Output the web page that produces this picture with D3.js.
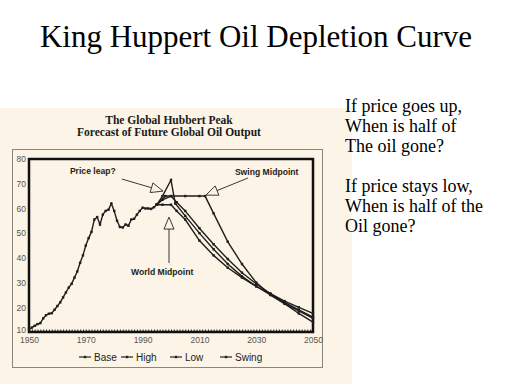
<!DOCTYPE html>
<html>
<head>
<meta charset="utf-8">
<script src="https://cdn.jsdelivr.net/npm/d3@7"></script>
<style>
  body { margin: 0; background: #fff; }
  svg { display: block; }
</style>
</head>
<body>
<svg id="chart" width="512" height="384"></svg>
<script>
// historical output (million bbl/day)
var histYears = [1950, 1951, 1952, 1953, 1954, 1955, 1956, 1957, 1958, 1959,
                 1960, 1961, 1962, 1963, 1964, 1965, 1966, 1967, 1968, 1969,
                 1970, 1971, 1972, 1973, 1974, 1975, 1976, 1977, 1978, 1979,
                 1980, 1981, 1982, 1983, 1984, 1985, 1986, 1987, 1988, 1989,
                 1990, 1991, 1992, 1993, 1994, 1995];
var histValues = [11, 11.8, 12.5, 13.2, 13.6, 15.5, 16.8, 17.4, 17.6, 19,
                  20.5, 22, 24, 26, 28, 29.5, 32, 34.5, 38, 41,
                  45, 48, 50.5, 55.5, 56.5, 53.5, 57.5, 59, 59.5, 62,
                  59, 55, 52.5, 52.3, 53.5, 53, 55.5, 55.8, 57.5, 59,
                  60.3, 60, 60, 59.8, 60.5, 61.5];

// forecast scenarios
var baseYears   = [1995, 1997, 2000, 2002, 2005, 2010, 2015, 2020, 2025, 2030, 2035, 2040, 2045, 2050];
var baseValues  = [61.5, 63.5, 65, 62.5, 59, 52, 45.5, 39.5, 34, 29.5, 25.5, 22, 19, 16];
var highYears   = [1995, 1997, 2000, 2001.5, 2005, 2010, 2015, 2020, 2025, 2030, 2035, 2040, 2045, 2050];
var highValues  = [61.5, 65, 71.5, 62, 57, 50, 43.5, 37.5, 32.5, 28.5, 25, 21.5, 17.5, 14];
var lowYears    = [1995, 1997, 2000, 2002, 2005, 2010, 2015, 2020, 2025, 2030, 2035, 2040, 2045, 2050];
var lowValues   = [61.5, 61.5, 61.5, 59, 55.5, 47, 41, 36, 32, 28.5, 25.5, 22.5, 20, 17.5];
var swingYears  = [1995, 1998, 2000, 2005, 2010, 2012, 2015, 2020, 2025, 2030, 2035, 2040, 2045, 2050];
var swingValues = [61.5, 65, 65, 65, 65, 65, 58, 46.5, 37.5, 30, 25, 21.5, 18.5, 15.5];

var seriesNames = ["Base", "High", "Low", "Swing"];
var xLabelYears = [1950, 1970, 1990, 2010, 2030, 2050];
var yTicks = [10, 20, 30, 40, 50, 60, 70, 80];

var notes = ["If price goes up,", "When is half of", "The oil gone?", "",
             "If price stays low,", "When is half of the", "Oil gone?"];

var serif = "'Liberation Serif', 'Times New Roman', Times, 'DejaVu Serif', serif";
var sans = "'Liberation Sans', Arial, Helvetica, sans-serif";

var svg = d3.select("#chart");

// slide title
svg.append("text")
    .attr("x", 256).attr("y", 46.5)
    .attr("text-anchor", "middle")
    .style("font-family", serif)
    .style("font-size", "31px")
    .text("King Huppert Oil Depletion Curve");

// cream picture panel
svg.append("rect")
    .attr("x", 0).attr("y", 108)
    .attr("width", 352).attr("height", 276)
    .attr("fill", "#fcf4e6");

// side notes
svg.append("g").selectAll("text")
    .data(notes)
    .enter().append("text")
    .attr("x", 345)
    .attr("y", function(d, i) { return 112 + i * 20; })
    .style("font-family", serif)
    .style("font-size", "18px")
    .text(function(d) { return d; });

// chart titles
var titles = ["The Global Hubbert Peak", "Forecast of Future Global Oil Output"];
svg.append("g").selectAll("text")
    .data(titles)
    .enter().append("text")
    .attr("x", 169)
    .attr("y", function(d, i) { return 123.5 + i * 12; })
    .attr("text-anchor", "middle")
    .style("font-family", serif)
    .style("font-weight", "bold")
    .style("font-size", "11.5px")
    .style("fill", "#1a1a1a")
    .text(function(d) { return d; });

// outer thin frame
svg.append("rect")
    .attr("x", 12.5).attr("y", 149.5)
    .attr("width", 310).attr("height", 218)
    .attr("fill", "none")
    .attr("stroke", "#8a8580")
    .attr("stroke-width", 1);

var x = d3.scaleLinear().domain([1950, 2050]).range([29, 313]);
var y = d3.scaleLinear().domain([10, 80]).range([332, 159]);

// yearly minor ticks along the bottom
svg.append("g")
    .attr("transform", "translate(0,332)")
    .call(d3.axisBottom(x).ticks(100).tickSize(-2.5).tickFormat(""))
    .call(function(g) { g.select(".domain").remove(); })
    .selectAll("line").attr("stroke", "#222");

// x labels
var xAxis = svg.append("g")
    .attr("transform", "translate(0,334)")
    .call(d3.axisBottom(x).tickValues(xLabelYears).tickSize(0).tickPadding(3).tickFormat(d3.format("d")));
xAxis.select(".domain").remove();
xAxis.selectAll("text")
    .style("font-family", sans)
    .style("font-size", "8.5px")
    .attr("fill", "#555");

// y labels
var yAxis = svg.append("g")
    .attr("transform", "translate(29,0)")
    .call(d3.axisLeft(y).tickValues(yTicks).tickSize(0).tickPadding(3));
yAxis.select(".domain").remove();
yAxis.selectAll("text")
    .style("font-family", sans)
    .style("font-size", "8.5px")
    .attr("fill", "#555")
    .attr("dy", function(d) { return d === 10 ? "0em" : "0.32em"; });

// plot frame
svg.append("rect")
    .attr("x", x(1950)).attr("y", y(80))
    .attr("width", x(2050) - x(1950)).attr("height", y(10) - y(80))
    .attr("fill", "none")
    .attr("stroke", "#111")
    .attr("stroke-width", 2.5);

function toPoints(years, values) {
    return years.map(function(yr, i) { return [yr, values[i]]; });
}

var allSeries = [
    toPoints(histYears, histValues),
    toPoints(baseYears, baseValues),
    toPoints(highYears, highValues),
    toPoints(lowYears, lowValues),
    toPoints(swingYears, swingValues)
];

var line = d3.line()
    .x(function(d) { return x(d[0]); })
    .y(function(d) { return y(d[1]); });

allSeries.forEach(function(pts) {
    svg.append("path")
        .datum(pts)
        .attr("d", line)
        .attr("fill", "none")
        .attr("stroke", "#1e1e1e")
        .attr("stroke-width", 1.4);
    svg.append("g").selectAll("rect")
        .data(pts)
        .enter().append("rect")
        .attr("x", function(d) { return x(d[0]) - 1.2; })
        .attr("y", function(d) { return y(d[1]) - 1.2; })
        .attr("width", 2.4).attr("height", 2.4)
        .attr("fill", "#1e1e1e");
});

// hollow arrows for the annotations
function arrow(x0, y0, x1, y1) {
    var px0 = x(x0), py0 = y(y0), px1 = x(x1), py1 = y(y1);
    var dx = px1 - px0, dy = py1 - py0;
    var len = Math.sqrt(dx * dx + dy * dy);
    var ux = dx / len, uy = dy / len;
    var hl = 12, hw = 5;
    var bx = px1 - ux * hl, by = py1 - uy * hl;
    svg.append("line")
        .attr("x1", px0).attr("y1", py0)
        .attr("x2", bx).attr("y2", by)
        .attr("stroke", "#222").attr("stroke-width", 0.9);
    svg.append("path")
        .attr("d", "M" + px1 + "," + py1 +
                   "L" + (bx - uy * hw) + "," + (by + ux * hw) +
                   "L" + (bx + uy * hw) + "," + (by - ux * hw) + "Z")
        .attr("fill", "#fcf4e6")
        .attr("stroke", "#222")
        .attr("stroke-width", 0.9);
}

arrow(1982.7, 71.9, 1997.2, 67.0);
arrow(2027.1, 72.3, 2012.3, 65.4);
arrow(1999.3, 37.9, 1999.3, 56.5);

function note(label, yr, val) {
    svg.append("text")
        .attr("x", x(yr)).attr("y", y(val))
        .attr("dy", "0.35em")
        .style("font-family", sans)
        .style("font-weight", "bold")
        .style("font-size", "8.6px")
        .style("fill", "#222")
        .text(label);
}
note("Price leap?", 1964.4, 75.3);
note("Swing Midpoint", 2022.5, 74.9);
note("World Midpoint", 1985.9, 34.4);

// legend
var legendX = [79, 121, 170, 220];
var legend = svg.append("g").selectAll("g")
    .data(seriesNames)
    .enter().append("g")
    .attr("transform", function(d, i) { return "translate(" + legendX[i] + ",357)"; });
legend.append("line")
    .attr("x1", 0).attr("x2", 12)
    .attr("stroke", "#222").attr("stroke-width", 1.2);
legend.append("rect")
    .attr("x", 4.8).attr("y", -1.2)
    .attr("width", 2.4).attr("height", 2.4)
    .attr("fill", "#222");
legend.append("text")
    .attr("x", 15).attr("dy", "0.36em")
    .style("font-family", sans)
    .style("font-size", "10px")
    .style("fill", "#222")
    .text(function(d) { return d; });
</script>
</body>
</html>
